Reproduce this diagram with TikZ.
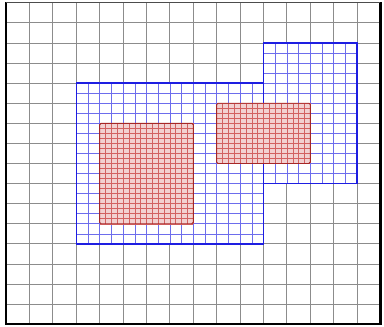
\documentclass[tikz,border=0pt]{standalone}
\usepackage{tikz}
\definecolor{gridgray}{RGB}{140,140,140}
\definecolor{patchblue}{RGB}{30,30,225}
\definecolor{patchred}{RGB}{195,45,45}
\tikzset{
  coarse/.style={gridgray, line width=0.6pt},
  midgrid/.style={patchblue!65, line width=0.4pt},
  finegrid/.style={patchred!75, line width=0.35pt},
  blueedge/.style={patchblue, line width=1.1pt},
  rededge/.style={patchred!85!black, line width=0.7pt, rounded corners=1pt},
}

\begin{document}
\begin{tikzpicture}[x=0.6cm, y=0.515cm]
  \useasboundingbox (-0.26,-0.13) rectangle (16.15,16.14);
  \fill[white] (-0.26,-0.13) rectangle (16.15,16.14);
  % Coarse base grid
  \draw[coarse, step=1] (0,0) grid (16,16);
  % Level 1 patches (blue)
  \fill[white] (3,4) rectangle (11,12);
  \fill[white] (11,7) rectangle (15,14);
  \draw[midgrid, step=0.5] (3,4) grid (11,12);
  \draw[midgrid, step=0.5] (11,7) grid (15,14);
  \draw[blueedge] (3,4) rectangle (11,12);
  \draw[blueedge] (11,7) rectangle (15,14);
  % Level 2 patches (red)
  \fill[patchred!22] (4,5) rectangle (8,10);
  \fill[patchred!22] (9,8) rectangle (13,11);
  \draw[finegrid, step=0.25] (4,5) grid (8,10);
  \draw[finegrid, step=0.25] (9,8) grid (13,11);
  \draw[rededge] (4,5) rectangle (8,10);
  \draw[rededge] (9,8) rectangle (13,11);
  % Frame
  \draw[line width=1.8pt, line cap=rect] (0,16) -- (0,0) -- (16,0) -- (16,16);
  \draw[line width=0.8pt, black!70] (0,16) -- (16,16);
\end{tikzpicture}
\end{document}
